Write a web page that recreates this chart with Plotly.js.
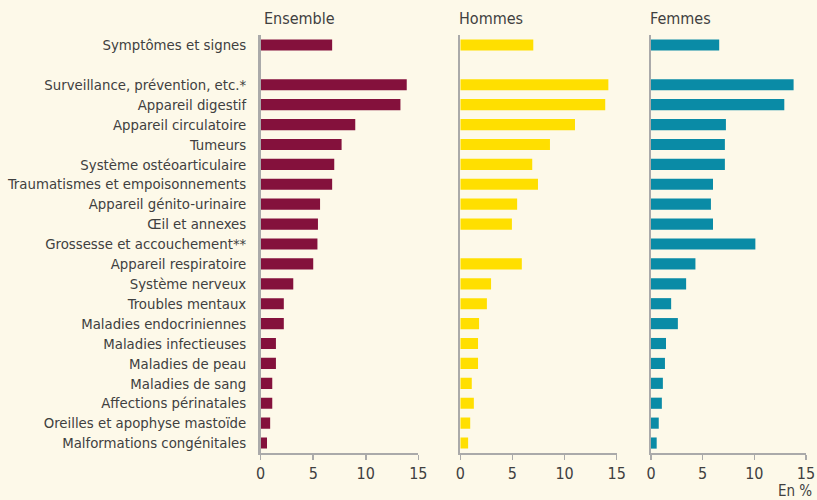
<!DOCTYPE html>
<html><head><meta charset="utf-8">
<script src="https://cdn.plot.ly/plotly-3.0.1.min.js"></script>
<style>html,body{margin:0;padding:0;background:#fdf9e9;}</style>
</head><body>
<div id="chart" style="width:817px;height:500px;"></div>
<script>
const categories = [
  "Symptômes et signes", " ",
  "Surveillance, prévention, etc.*", "Appareil digestif", "Appareil circulatoire",
  "Tumeurs", "Système ostéoarticulaire", "Traumatismes et empoisonnements",
  "Appareil génito-urinaire", "Œil et annexes", "Grossesse et accouchement**",
  "Appareil respiratoire", "Système nerveux", "Troubles mentaux",
  "Maladies endocriniennes", "Maladies infectieuses", "Maladies de peau",
  "Maladies de sang", "Affections périnatales", "Oreilles et apophyse mastoïde",
  "Malformations congénitales"
];
const ensemble = [6.8, null, 13.9, 13.3, 9.0, 7.7, 7.0, 6.8, 5.65, 5.45, 5.4, 5.0, 3.1, 2.2, 2.2, 1.45, 1.45, 1.1, 1.1, 0.9, 0.6];
const hommes   = [7.0, null, 14.2, 13.9, 11.0, 8.6, 6.9, 7.45, 5.45, 4.95, null, 5.9, 2.95, 2.55, 1.8, 1.7, 1.7, 1.1, 1.3, 0.95, 0.75];
const femmes   = [6.6, null, 13.8, 12.9, 7.25, 7.15, 7.15, 6.0, 5.8, 6.0, 10.1, 4.3, 3.4, 1.95, 2.6, 1.45, 1.35, 1.15, 1.05, 0.75, 0.55];
const panelTitles = ["Ensemble", "Hommes", "Femmes"];
const xTicks = [0, 5, 10, 15];

const W = 817, H = 500;
const font = "'DejaVu Sans Condensed', 'Liberation Sans Narrow', sans-serif";
const txt = "#404040";
const axc = "#aaaaaa";
const colors = ["#84113c", "#ffdf00", "#0a8ba6"];
const xdom = [[260.7/W, 418.3/W], [460.3/W, 616.7/W], [651/W, 806/W]];
const ydom = [1 - 453/H, 1 - 35/H];
const series = [ensemble, hommes, femmes];

const traces = series.map((vals, i) => ({
  type: "bar", orientation: "h",
  x: vals, y: categories,
  xaxis: i === 0 ? "x" : "x" + (i + 1),
  yaxis: i === 0 ? "y" : "y" + (i + 1),
  marker: {color: colors[i]},
  hoverinfo: "none", showlegend: false
}));

const layout = {
  width: W, height: H,
  margin: {l: 0, r: 0, t: 0, b: 0},
  paper_bgcolor: "#fdf9e9", plot_bgcolor: "#fdf9e9",
  font: {family: font, color: txt, size: 15},
  bargap: 0.44,
  annotations: [],
  showlegend: false
};
for (let i = 0; i < 3; i++) {
  const s = i === 0 ? "" : String(i + 1);
  layout["xaxis" + s] = {
    domain: xdom[i], anchor: "y" + s, range: [0, 15],
    tickvals: xTicks, ticktext: xTicks.map(String),
    showgrid: false, zeroline: false,
    showline: true, linecolor: axc, linewidth: 1.5,
    ticks: "outside", ticklen: 5, tickcolor: axc, tickwidth: 1.5,
    tickfont: {size: 16, color: txt, family: font},
    fixedrange: true, automargin: false
  };
  layout["yaxis" + s] = {
    domain: ydom, anchor: "x" + s,
    type: "category", categoryorder: "array", categoryarray: categories,
    range: [categories.length - 0.5, -0.5],
    showgrid: false, zeroline: false,
    showline: true, linecolor: axc, linewidth: 2.5,
    ticks: "", showticklabels: i === 0, ticklabelstandoff: 9,
    tickfont: {size: 14.8, color: txt, family: font},
    fixedrange: true, automargin: false
  };
  layout.annotations.push({
    text: panelTitles[i], xref: "paper", yref: "paper",
    x: xdom[i][0] - (i === 0 ? -0.001 : 0.004), y: 1 - 18/H,
    xanchor: "left", yanchor: "middle", showarrow: false,
    font: {size: 16, color: txt, family: font}
  });
}
layout.annotations.push({
  text: "En %", xref: "paper", yref: "paper", x: 0.996, y: 1 - 491/H,
  xanchor: "right", yanchor: "middle", showarrow: false,
  font: {size: 15, color: txt, family: font}
});

Plotly.newPlot("chart", traces, layout, {displayModeBar: false, staticPlot: true});
</script>
</body></html>
